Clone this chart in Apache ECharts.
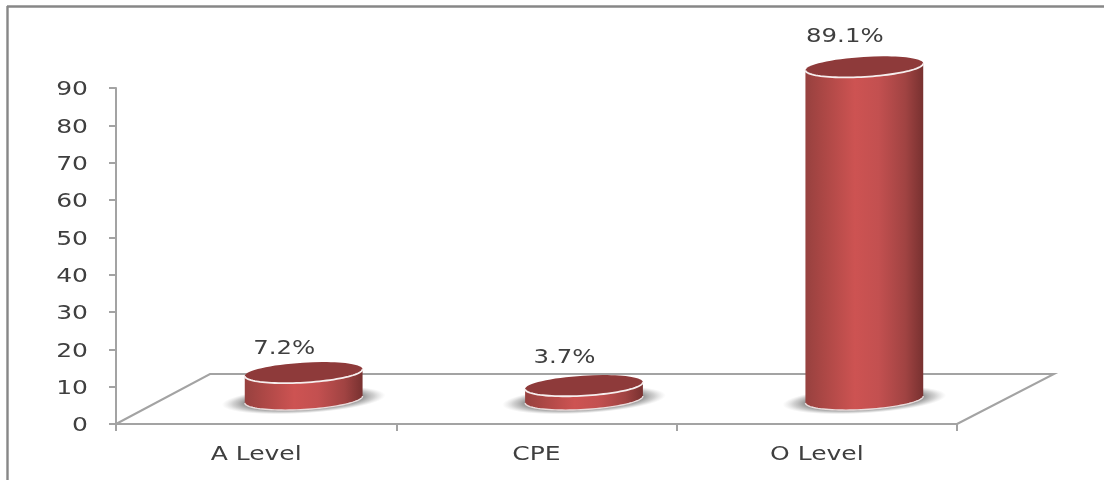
<!DOCTYPE html>
<html>
<head>
<meta charset="utf-8">
<style>html,body{margin:0;padding:0;background:#fff}#chart{width:1104px;height:480px}</style>
<script src="https://cdn.jsdelivr.net/npm/echarts@6/dist/echarts.min.js"></script>
</head>
<body>
<div id="chart"></div>
<script>
const categories = ['A Level', 'CPE', 'O Level'];
const percentages = [7.2, 3.7, 89.1];
const valueTicks = [0, 10, 20, 30, 40, 50, 60, 70, 80, 90];
const axisMax = 90;
const axisStep = 10;

const FONT = '"DejaVu Sans"';
const TEXT = '#3f3f3f';
const AXIS = '#a3a3a3';
// Floor parallelogram, in pixels from the front edge; cylinders stand half way back.
const BACK_LEFT = 94, BACK_RIGHT = 97, BACK_Y = -50;
const STAND_X = 47.5, STAND_Y = -24.5;
const RX = 59, RY = 10, TILT = -3.4 * Math.PI / 180;
const WIDE = 1.25;
// Height of each percentage label above its cylinder's top.
const labelLift = [24, 27.5, 30];

// Points along a tilted ellipse, used for the cylinder's edges.
function rim(cx, cy, from, to) {
  const pts = [];
  for (let i = 0; i <= 48; i++) {
    const t = from + (to - from) * i / 48;
    const x = RX * Math.cos(t), y = RY * Math.sin(t);
    pts.push([cx + x * Math.cos(TILT) - y * Math.sin(TILT),
              cy + x * Math.sin(TILT) + y * Math.cos(TILT)]);
  }
  return pts;
}

function wideText(text, x, y, align) {
  return {
    type: 'text', x: x, y: y, scaleX: WIDE, silent: true,
    style: { text: text, x: 0, y: 0, align: align, verticalAlign: 'middle', font: '20px ' + FONT, fill: TEXT }
  };
}

function renderFloor(params, api) {
  const cs = params.coordSys;
  const x0 = cs.x, x1 = cs.x + cs.width, y0 = cs.y + cs.height;
  return {
    type: 'polyline',
    silent: true,
    shape: { points: [[x0, y0], [x0 + BACK_LEFT, y0 + BACK_Y], [x1 + BACK_RIGHT, y0 + BACK_Y], [x1, y0]] },
    style: { stroke: AXIS, lineWidth: 2, fill: null }
  };
}

function renderCategoryLabel(params, api) {
  const p = api.coord([api.value(0), 0]);
  return wideText(categories[api.value(0)], p[0], p[1] + 31, 'center');
}

function renderValueLabel(params, api) {
  const p = api.coord([0, api.value(1)]);
  return wideText(String(api.value(1)), params.coordSys.x - 28, p[1] + 2, 'right');
}

function renderCylinder(params, api) {
  const value = api.value(1);
  const base = api.coord([api.value(0), 0]);
  const cx = base[0] + STAND_X;
  const by = base[1] + STAND_Y;
  const ty = by - api.size([0, value])[1];
  const front = rim(cx, ty, Math.PI, 0);
  const bottom = rim(cx, by, 0, Math.PI);
  const bodyFill = new echarts.graphic.LinearGradient(0, 0, 1, 0, [
    { offset: 0, color: '#97413f' },
    { offset: 0.15, color: '#ab4745' },
    { offset: 0.42, color: '#cd5352' },
    { offset: 0.62, color: '#c35050' },
    { offset: 0.85, color: '#a04342' },
    { offset: 1, color: '#783130' }
  ]);
  return {
    type: 'group',
    children: [
      {
        type: 'circle',
        shape: { cx: 0, cy: 0, r: 1 },
        x: cx, y: by + 0.5, scaleX: 82, scaleY: 13.5, rotation: -TILT,
        silent: true,
        style: {
          fill: new echarts.graphic.RadialGradient(0.5, 0.5, 0.5, [
            { offset: 0, color: 'rgba(105,105,105,0.9)' },
            { offset: 0.7, color: 'rgba(110,110,110,0.8)' },
            { offset: 0.86, color: 'rgba(150,150,150,0.45)' },
            { offset: 1, color: 'rgba(190,190,190,0)' }
          ])
        }
      },
      {
        type: 'polygon',
        shape: { points: front.slice().reverse().concat(bottom.slice().reverse()) },
        style: { fill: bodyFill }
      },
      {
        type: 'polyline',
        shape: { points: bottom },
        style: { fill: null, stroke: '#e9dcdc', lineWidth: 1.4 }
      },
      {
        type: 'ellipse',
        shape: { cx: 0, cy: 0, rx: RX, ry: RY },
        x: cx, y: ty, rotation: -TILT,
        style: { fill: '#8e3a3a' }
      },
      {
        type: 'polyline',
        shape: { points: rim(cx, ty, Math.PI, 0) },
        style: { fill: null, stroke: '#f6eeee', lineWidth: 1.8 }
      },
      Object.assign(wideText(value + '%', base[0] + 28, ty - labelLift[params.dataIndex], 'center'), { scaleX: 1.22 })
    ]
  };
}

const chart = echarts.init(document.getElementById('chart'));
chart.setOption({
  animation: false,
  backgroundColor: '#fff',
  grid: { left: 116, top: 88, width: 841, height: 336 },
  graphic: [
    { type: 'line', shape: { x1: 7, y1: 6.5, x2: 1104, y2: 6.5 }, style: { stroke: '#878787', lineWidth: 2.4 } },
    { type: 'line', shape: { x1: 7.5, y1: 6, x2: 7.5, y2: 480 }, style: { stroke: '#878787', lineWidth: 2.4 } }
  ],
  xAxis: {
    type: 'category',
    data: categories,
    axisLine: { lineStyle: { color: AXIS, width: 2 } },
    axisTick: { show: true, length: 7, alignWithLabel: false, lineStyle: { color: AXIS, width: 2 } },
    axisLabel: { show: false }
  },
  yAxis: {
    type: 'value',
    min: 0,
    max: axisMax,
    interval: axisStep,
    splitLine: { show: false },
    axisLine: { show: true, lineStyle: { color: AXIS, width: 2 } },
    axisTick: { show: true, length: 7, lineStyle: { color: AXIS, width: 2 } },
    axisLabel: { show: false }
  },
  series: [
    { type: 'custom', coordinateSystem: 'cartesian2d', renderItem: renderFloor, data: [[0, 0]], silent: true, z: 1 },
    {
      type: 'custom', coordinateSystem: 'cartesian2d', renderItem: renderCategoryLabel, clip: false, silent: true, z: 3,
      data: categories.map((c, i) => [i, 0])
    },
    {
      type: 'custom', coordinateSystem: 'cartesian2d', renderItem: renderValueLabel, clip: false, silent: true, z: 3,
      data: valueTicks.map(v => [0, v])
    },
    {
      type: 'custom', coordinateSystem: 'cartesian2d', renderItem: renderCylinder, clip: false, z: 2,
      data: categories.map((c, i) => [i, percentages[i]]),
      encode: { x: 0, y: 1 }
    }
  ]
});
</script>
</body>
</html>
